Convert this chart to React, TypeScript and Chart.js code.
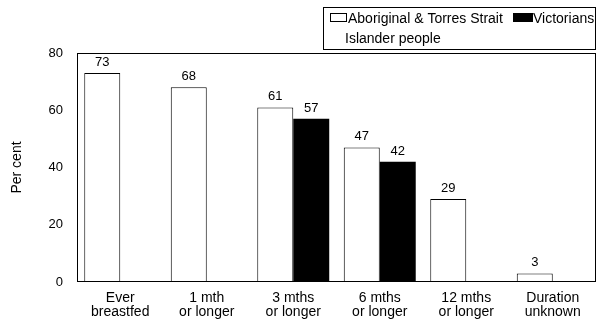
import React, { useEffect, useRef } from "react";
import { Chart, registerables } from "chart.js";

Chart.register(...registerables);

const categories: string[][] = [
  ["Ever", "breastfed"],
  ["1 mth", "or longer"],
  ["3 mths", "or longer"],
  ["6 mths", "or longer"],
  ["12 mths", "or longer"],
  ["Duration", "unknown"],
];
const aboriginal: (number | null)[] = [73, 68, 61, 47, 29, 3];
const victorians: (number | null)[] = [null, null, 57, 42, null, null];
const yTicks = [0, 20, 40, 60, 80];
const seriesNames = ["Aboriginal & Torres Strait", "Islander people", "Victorians"];

const FONT = "'Liberation Sans', Arial, Helvetica, sans-serif";

const framePlugin = {
  id: "frame",
  afterDatasetsDraw(chart: any) {
    const { ctx, chartArea } = chart;
    ctx.save();
    ctx.strokeStyle = "#000";
    ctx.lineWidth = 1;
    const l = Math.round(chartArea.left) + 0.5;
    const t = Math.round(chartArea.top) + 0.5;
    const r = Math.round(chartArea.right) - 0.5;
    const b = Math.round(chartArea.bottom) - 0.5;
    ctx.strokeRect(l, t, r - l, b - t);
    ctx.restore();
  },
};

const valueLabelPlugin = {
  id: "valueLabels",
  afterDatasetsDraw(chart: any) {
    const { ctx } = chart;
    ctx.save();
    ctx.font = `13px ${FONT}`;
    ctx.fillStyle = "#000";
    ctx.textAlign = "center";
    ctx.textBaseline = "alphabetic";
    chart.data.datasets.forEach((ds: any, di: number) => {
      const meta = chart.getDatasetMeta(di);
      meta.data.forEach((bar: any, i: number) => {
        const v = ds.data[i];
        if (v === null || v === undefined) return;
        ctx.fillText(String(v), bar.x, bar.y - 7);
      });
    });
    ctx.restore();
  },
};

const legendPlugin = {
  id: "customLegend",
  afterDraw(chart: any) {
    const { ctx } = chart;
    ctx.save();
    ctx.strokeStyle = "#000";
    ctx.lineWidth = 1;
    // legend frame
    ctx.strokeRect(323.5, 7.5, 272, 42);
    // swatch 1 (white)
    ctx.fillStyle = "#fff";
    ctx.fillRect(330.5, 13.5, 16, 8);
    ctx.strokeRect(330.5, 13.5, 16, 8);
    // swatch 2 (black)
    ctx.fillStyle = "#000";
    ctx.fillRect(513, 13, 20, 9);
    ctx.font = `14px ${FONT}`;
    ctx.textAlign = "left";
    ctx.textBaseline = "alphabetic";
    ctx.fillText(seriesNames[0], 348, 23);
    ctx.fillText(seriesNames[1], 345, 43);
    ctx.fillText(seriesNames[2], 533, 23);
    ctx.restore();
  },
};

export default function App() {
  const ref = useRef<HTMLCanvasElement | null>(null);
  useEffect(() => {
    if (!ref.current) return;
    const chart = new Chart(ref.current, {
      type: "bar",
      data: {
        labels: categories,
        datasets: [
          {
            label: seriesNames[0] + " " + seriesNames[1],
            data: aboriginal,
            backgroundColor: "#fff",
            borderColor: "#000",
            borderWidth: 1,
            categoryPercentage: 0.832,
            barPercentage: 1,
          },
          {
            label: seriesNames[2],
            data: victorians,
            backgroundColor: "#000",
            borderColor: "#000",
            borderWidth: 0,
            categoryPercentage: 0.832,
            barPercentage: 1,
          },
        ],
      },
      options: {
        responsive: false,
        animation: false,
        layout: { padding: { top: 53, right: 5, left: 0, bottom: 0 } },
        plugins: {
          legend: { display: false },
          tooltip: { enabled: false },
          title: { display: false },
        },
        scales: {
          x: {
            grid: { display: false, drawTicks: false },
            border: { display: false },
            ticks: {
              color: "#000",
              font: { family: FONT, size: 14, lineHeight: 1.0 },
              padding: 9,
              maxRotation: 0,
              autoSkip: false,
            },
            afterFit: (scale: any) => {
              scale.height = 44;
            },
          },
          y: {
            min: 0,
            max: 80,
            afterBuildTicks: (scale: any) => {
              scale.ticks = yTicks.map((v) => ({ value: v }));
            },
            grid: { display: false, drawTicks: false },
            border: { display: false },
            ticks: {
              color: "#000",
              font: { family: FONT, size: 13 },
              padding: 14,
            },
            title: {
              display: true,
              text: "Per cent",
              color: "#000",
              font: { family: FONT, size: 14 },
              padding: { top: 9, bottom: 0 },
            },
            afterFit: (scale: any) => {
              scale.width = 77;
            },
          },
        },
      },
      plugins: [framePlugin, valueLabelPlugin, legendPlugin],
    });
    return () => chart.destroy();
  }, []);
  return (
    <div style={{ position: "fixed", left: 0, top: 0, width: 601, height: 326, background: "#fff" }}>
      <canvas ref={ref} width={601} height={326} />
    </div>
  );
}
